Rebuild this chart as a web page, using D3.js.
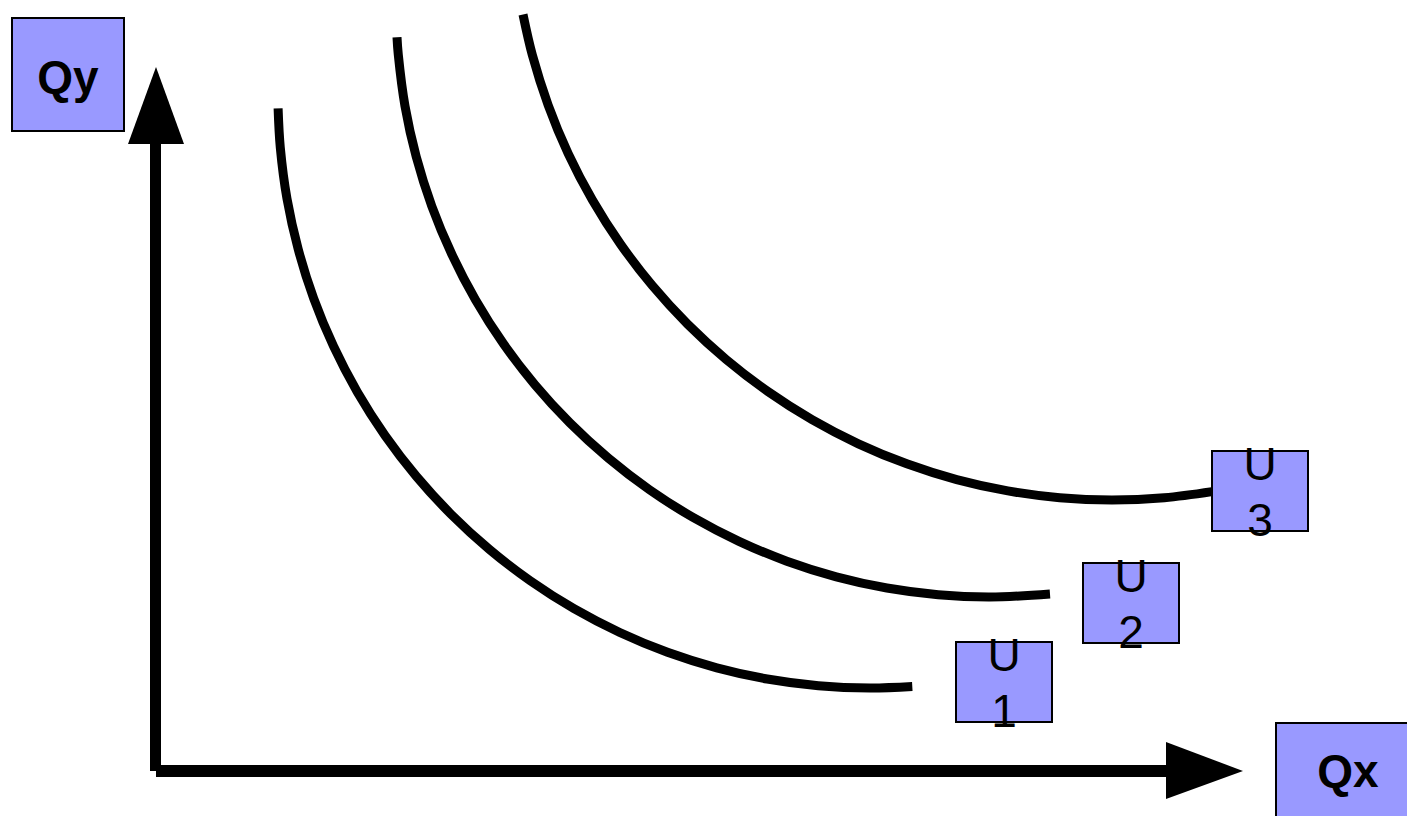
<!DOCTYPE html>
<html>
<head>
<meta charset="utf-8">
<script src="https://cdn.jsdelivr.net/npm/d3@7/dist/d3.min.js"></script>
<style>
  html, body { margin: 0; padding: 0; background: #ffffff; }
  svg { display: block; }
</style>
</head>
<body>
<svg id="chart" width="1407" height="816"></svg>
<script>
// ---- data (chart units: distance from the origin along each axis) ----
const curveNames = ["U1", "U2", "U3"];
const labelTop = ["U", "U", "U"];
const labelBottom = ["1", "2", "3"];
const axisNames = ["Qx", "Qy"];

const u1X = [122.1, 124.3, 131.0, 142.2, 157.7, 177.5, 201.3, 229.1, 260.5, 295.4, 333.5, 374.4, 418.0, 463.8, 511.5, 560.8, 611.2, 662.4, 714.0, 756.3];
const u1Y = [662.6, 623.4, 572.2, 521.8, 472.5, 424.8, 379.0, 335.4, 294.5, 256.4, 221.5, 190.1, 162.3, 138.5, 118.7, 103.2, 92.0, 85.3, 83.0, 84.5];

const u2X = [241.0, 242.3, 249.0, 260.2, 275.8, 295.7, 319.6, 347.4, 379.0, 414.0, 452.2, 493.3, 537.0, 583.0, 630.8, 680.3, 730.9, 782.2, 834.0, 894.0];
const u2Y = [733.8, 716.2, 664.9, 614.3, 564.8, 517.0, 471.0, 427.3, 386.2, 348.0, 313.0, 281.4, 253.6, 229.7, 209.8, 194.2, 183.0, 176.3, 174.0, 177.0];

const u3X = [367.0, 376.4, 392.2, 412.2, 436.4, 464.5, 496.4, 531.7, 570.3, 611.9, 656.0, 702.4, 750.8, 800.7, 851.8, 903.7, 956.0, 1008.3, 1056.1];
const u3Y = [756.5, 715.7, 665.8, 617.4, 571.0, 526.9, 485.3, 446.7, 411.4, 379.5, 351.4, 327.2, 307.2, 291.4, 280.1, 273.3, 271.0, 273.3, 279.4];

// label box anchor positions (chart units: left, top)
const labelBoxX = [800, 927, 1056];
const labelBoxY = [129, 208, 320];

// ---- layout ----
const svg = d3.select("#chart");
const x = d3.scaleLinear().domain([0, 1087]).range([156, 1243]);
const y = d3.scaleLinear().domain([0, 704]).range([771, 67]);

const boxFill = "#9999ff";

// axes lines
svg.append("line")
  .attr("x1", x(0) - 0.5).attr("x2", x(0) - 0.5)
  .attr("y1", y(0)).attr("y2", y(627))
  .attr("stroke", "#000").attr("stroke-width", 11);
svg.append("line")
  .attr("x1", x(0)).attr("x2", x(1012))
  .attr("y1", y(0)).attr("y2", y(0))
  .attr("stroke", "#000").attr("stroke-width", 12);

// arrowheads
svg.append("path")
  .attr("d", `M${x(0)},${y(704)} L${x(-28)},${y(627)} L${x(28)},${y(627)} Z`)
  .attr("fill", "#000");
svg.append("path")
  .attr("d", `M${x(1087)},${y(0)} L${x(1010)},${y(29)} L${x(1010)},${y(-28)} Z`)
  .attr("fill", "#000");

// curves
const line = d3.line()
  .x(d => x(d[0]))
  .y(d => y(d[1]))
  .curve(d3.curveCatmullRom.alpha(0.5));

const curves = [
  d3.zip(u1X, u1Y),
  d3.zip(u2X, u2Y),
  d3.zip(u3X, u3Y)
];

svg.selectAll("path.curve")
  .data(curves)
  .enter().append("path")
  .attr("class", "curve")
  .attr("d", line)
  .attr("fill", "none")
  .attr("stroke", "#000")
  .attr("stroke-width", 9)
  .attr("stroke-linecap", "butt");

// U labels
curveNames.forEach((name, i) => {
  const bx = x(labelBoxX[i]);
  const by = y(labelBoxY[i]);
  const w = 96, h = 80;
  svg.append("rect")
    .attr("x", bx).attr("y", by).attr("width", w).attr("height", h)
    .attr("fill", boxFill).attr("stroke", "#000").attr("stroke-width", 2);
  const t = svg.append("text")
    .attr("x", bx + w / 2)
    .attr("text-anchor", "middle")
    .attr("font-family", "Liberation Sans, Arial, sans-serif")
    .attr("font-size", 46)
    .attr("fill", "#000");
  t.append("tspan").attr("x", bx + w / 2).attr("y", by + 29).text(labelTop[i]);
  t.append("tspan").attr("x", bx + w / 2).attr("y", by + 85).text(labelBottom[i]);
});

// axis name boxes
svg.append("rect")
  .attr("x", 12).attr("y", 18).attr("width", 112).attr("height", 113)
  .attr("fill", boxFill).attr("stroke", "#000").attr("stroke-width", 2);
svg.append("text")
  .attr("x", 68).attr("y", 93)
  .attr("text-anchor", "middle")
  .attr("font-family", "Liberation Sans, Arial, sans-serif")
  .attr("font-weight", "bold")
  .attr("font-size", 46)
  .text(axisNames[1]);

svg.append("rect")
  .attr("x", 1276).attr("y", 723).attr("width", 144).attr("height", 113)
  .attr("fill", boxFill).attr("stroke", "#000").attr("stroke-width", 2);
svg.append("text")
  .attr("x", 1348).attr("y", 787)
  .attr("text-anchor", "middle")
  .attr("font-family", "Liberation Sans, Arial, sans-serif")
  .attr("font-weight", "bold")
  .attr("font-size", 46)
  .text(axisNames[0]);
</script>
</body>
</html>
